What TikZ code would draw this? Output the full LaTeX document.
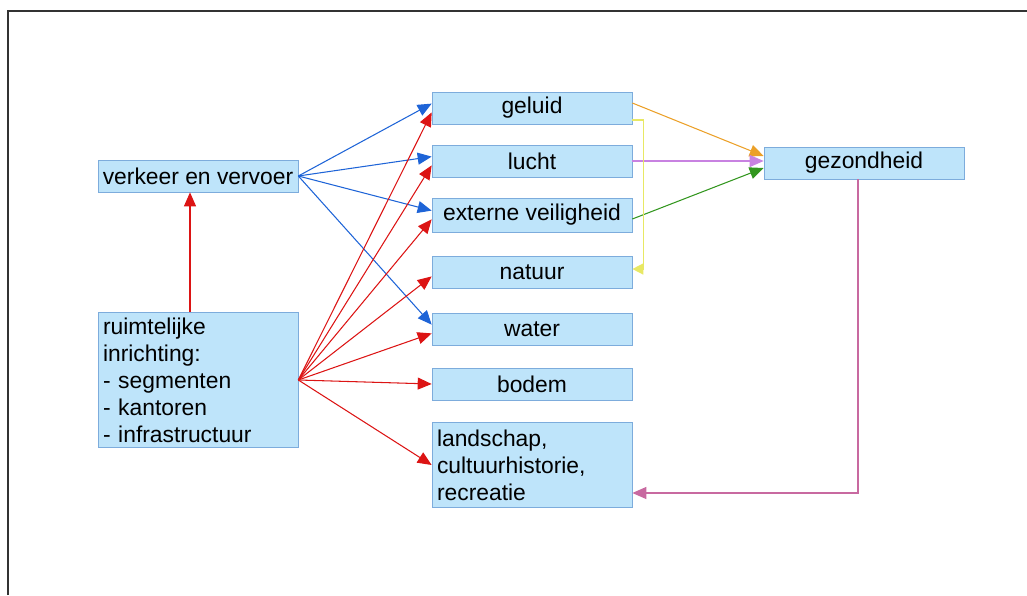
\documentclass[tikz,border=0pt]{standalone}
\usepackage{fontspec}
\setmainfont{Liberation Sans}
\usetikzlibrary{arrows.meta}
\definecolor{vakvul}{RGB}{190,228,250}
\definecolor{vaklijn}{RGB}{125,172,220}
\definecolor{blauw}{RGB}{30,100,215}
\definecolor{rood}{RGB}{220,20,20}
\definecolor{oranje}{RGB}{235,160,40}
\definecolor{paars}{RGB}{200,130,225}
\definecolor{groen}{RGB}{50,150,30}
\definecolor{geel}{RGB}{232,232,100}
\definecolor{roze}{RGB}{200,105,160}
\begin{document}
\begin{tikzpicture}[x=.02cm,y=-.02cm,
vak/.style={draw=vaklijn,fill=vakvul,minimum width=4cm,minimum height=.64cm,inner sep=2pt,font=\fontsize{13}{15.4}\selectfont},
pijl/.style={line width=.6pt,-{Triangle[length=.28cm,width=.24cm]}}]
\useasboundingbox(0,0)rectangle(1027,595);
\draw[line width=1.5pt,black!80](8,595)|-(1027,11);
\node[vak](verkeer)at(198,176){verkeer en vervoer};
\node[vak,minimum height=2.7cm,text width=3.8cm,align=left](ruimte)at(198,380){ruimtelijke\\inrichting:\\- segmenten\\- kantoren\\- infrastructuur};
\node[vak](geluid)at(532,108){geluid};\node[vak](lucht)at(532,161){lucht};
\node[vak,minimum height=.68cm](extern)at(532,215){externe veiligheid};
\node[vak](natuur)at(532,272){natuur};\node[vak](water)at(532,329){water};\node[vak](bodem)at(532,384){bodem};
\node[vak,minimum height=1.7cm,text width=3.8cm,align=left](landschap)at(532,465){landschap,\\cultuurhistorie,\\recreatie};
\node[vak](gezond)at(864,163){gezondheid};
\foreach \n in {geluid,lucht,extern,water}\draw[pijl,blauw](verkeer.east)--([yshift=2.5pt]\n.west);
\foreach \n in {geluid,lucht,extern,natuur,water}\draw[pijl,rood](ruimte.east)--([yshift=-2.5pt]\n.west);
\foreach \n in {bodem,landschap}\draw[pijl,rood](ruimte.east)--(\n.west);
\draw[pijl,rood]([xshift=-.16cm]ruimte.north)--([xshift=-.16cm]verkeer.south);
\draw[pijl,oranje]([yshift=.1cm]geluid.east)--([yshift=.14cm]gezond.west);
\draw[pijl,paars](lucht.east)--(lucht.east-|gezond.west);
\draw[pijl,groen]([yshift=-.08cm]extern.east)--([yshift=-.1cm]gezond.west);
\draw[line width=.8pt,geel,-{Triangle[length=.22cm,width=.22cm]}]([yshift=-.24cm]geluid.east)--++(11,0)|-([yshift=.06cm]natuur.east);
\draw[pijl,roze]([xshift=-.12cm]gezond.south)|-([yshift=-.56cm]landschap.east);
\end{tikzpicture}
\end{document}
